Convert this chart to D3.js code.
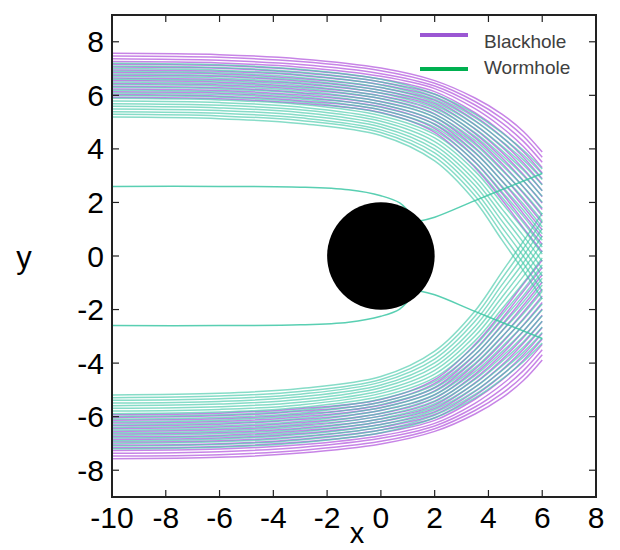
<!DOCTYPE html>
<html>
<head>
<meta charset="utf-8">
<script src="https://cdn.jsdelivr.net/npm/d3@7/dist/d3.min.js"></script>
<style>
  body { margin: 0; background: #fff; }
  text { font-family: "Liberation Sans", Arial, sans-serif; }
</style>
</head>
<body>
<svg id="chart" width="620" height="550"></svg>
<script>
// x stations where every ray is sampled (upper half, lower half is mirrored)
const stationX = [-10, -6, -3, 0, 2, 3.5, 4.5, 5.3, 6];

// blackhole rays, y at each station (outer -> inner)
const bhAtXm10 = [7.57, 7.47, 7.37, 7.26, 7.16, 7.06, 6.95, 6.85, 6.75, 6.65, 6.55, 6.44, 6.34, 6.24, 6.13, 6.03, 5.93];
const bhAtXm6  = [7.52, 7.42, 7.31, 7.21, 7.11, 7.01, 6.90, 6.80, 6.70, 6.59, 6.49, 6.39, 6.28, 6.18, 6.08, 5.97, 5.87];
const bhAtXm3  = [7.36, 7.26, 7.15, 7.05, 6.95, 6.84, 6.74, 6.63, 6.53, 6.43, 6.32, 6.22, 6.11, 6.01, 5.91, 5.80, 5.70];
const bhAtX0   = [7.02, 6.92, 6.81, 6.71, 6.61, 6.50, 6.40, 6.29, 6.19, 6.09, 5.98, 5.88, 5.77, 5.67, 5.57, 5.46, 5.36];
const bhAtX2   = [6.55, 6.45, 6.35, 6.25, 6.14, 6.04, 5.92, 5.81, 5.69, 5.57, 5.44, 5.31, 5.18, 5.04, 4.91, 4.76, 4.62];
const bhAtX35  = [5.90, 5.77, 5.64, 5.50, 5.35, 5.21, 5.06, 4.90, 4.74, 4.57, 4.41, 4.23, 4.05, 3.87, 3.69, 3.50, 3.30];
const bhAtX45  = [5.30, 5.14, 4.97, 4.80, 4.63, 4.45, 4.26, 4.07, 3.87, 3.67, 3.46, 3.25, 3.03, 2.80, 2.57, 2.34, 2.10];
const bhAtX53  = [4.65, 4.47, 4.28, 4.09, 3.89, 3.69, 3.48, 3.26, 3.04, 2.81, 2.58, 2.34, 2.09, 1.84, 1.58, 1.32, 1.05];
const bhAtX6   = [3.88, 3.69, 3.50, 3.30, 3.10, 2.89, 2.67, 2.44, 2.21, 1.98, 1.74, 1.49, 1.23, 0.97, 0.70, 0.43, 0.15];

// wormhole rays, y at each station (outer -> inner)
const whAtXm10 = [7.20, 7.10, 7.00, 6.90, 6.80, 6.70, 6.60, 6.50, 6.40, 6.30, 6.19, 6.09, 5.99, 5.89, 5.79, 5.69, 5.59, 5.49, 5.39, 5.29, 5.19];
const whAtXm6  = [7.14, 7.04, 6.94, 6.84, 6.74, 6.64, 6.54, 6.44, 6.34, 6.24, 6.13, 6.03, 5.93, 5.83, 5.73, 5.63, 5.53, 5.43, 5.33, 5.23, 5.13];
const whAtXm3  = [6.97, 6.87, 6.77, 6.67, 6.57, 6.47, 6.37, 6.27, 6.17, 6.07, 5.96, 5.86, 5.76, 5.66, 5.56, 5.46, 5.36, 5.26, 5.16, 5.06, 4.95];
const whAtX0   = [6.60, 6.50, 6.39, 6.29, 6.18, 6.08, 5.97, 5.87, 5.76, 5.66, 5.55, 5.45, 5.34, 5.24, 5.13, 5.03, 4.92, 4.82, 4.71, 4.61, 4.50];
const whAtX2   = [6.05, 5.95, 5.85, 5.74, 5.63, 5.52, 5.41, 5.29, 5.18, 5.06, 4.93, 4.81, 4.68, 4.54, 4.41, 4.27, 4.13, 3.99, 3.85, 3.70, 3.55];
const whAtX35  = [5.30, 5.17, 5.04, 4.90, 4.76, 4.61, 4.47, 4.32, 4.17, 4.01, 3.85, 3.68, 3.52, 3.34, 3.17, 2.99, 2.81, 2.63, 2.44, 2.25, 2.05];
const whAtX45  = [4.60, 4.44, 4.28, 4.11, 3.94, 3.76, 3.58, 3.39, 3.20, 3.01, 2.81, 2.61, 2.40, 2.19, 1.98, 1.76, 1.54, 1.31, 1.08, 0.84, 0.60];
const whAtX53  = [3.95, 3.77, 3.59, 3.40, 3.20, 3.00, 2.80, 2.59, 2.38, 2.16, 1.94, 1.71, 1.48, 1.24, 1.00, 0.75, 0.50, 0.25, -0.01, -0.28, -0.55];
const whAtX6   = [3.25, 3.06, 2.86, 2.65, 2.44, 2.23, 2.01, 1.79, 1.56, 1.32, 1.08, 0.83, 0.59, 0.33, 0.07, -0.20, -0.47, -0.74, -1.02, -1.31, -1.60];

// wormhole ray that falls into the throat, and the one leaving it
const inRayX  = [-10, -6, -3, -1.2, 0, 0.7, 1.2];
const inRayY  = [2.6, 2.6, 2.57, 2.47, 2.25, 1.98, 1.45];
const outRayX = [1.4, 2.0, 3.5, 5.0, 6.0];
const outRayY = [1.3, 1.45, 2.07, 2.68, 3.08];

const throatRadius = 2;
const xTicks = [-10, -8, -6, -4, -2, 0, 2, 4, 6, 8];
const yTicks = [-8, -6, -4, -2, 0, 2, 4, 6, 8];
const legendNames = ["Blackhole", "Wormhole"];
const legendColors = ["#9b57d3", "#00b050"];

const svg = d3.select("#chart");
const mLeft = 112, mRight = 596, mTop = 15, mBottom = 497;

const x = d3.scaleLinear().domain([-10, 8]).range([mLeft, mRight]);
const y = d3.scaleLinear().domain([-9, 9]).range([mBottom, mTop]);

svg.append("clipPath").attr("id", "plotclip")
  .append("rect").attr("x", mLeft).attr("y", mTop)
  .attr("width", mRight - mLeft).attr("height", mBottom - mTop);

const plot = svg.append("g").attr("clip-path", "url(#plotclip)");

const line = d3.line()
  .x(d => x(d[0]))
  .y(d => y(d[1]))
  .curve(d3.curveCatmullRom.alpha(0.5));

function raysFrom(columns) {
  const n = columns[0].length;
  const rays = [];
  for (let i = 0; i < n; i++) {
    const up = stationX.map((sx, j) => [sx, columns[j][i]]);
    rays.push(up);
    rays.push(up.map(p => [p[0], -p[1]]));
  }
  return rays;
}

const bhRays = raysFrom([bhAtXm10, bhAtXm6, bhAtXm3, bhAtX0, bhAtX2, bhAtX35, bhAtX45, bhAtX53, bhAtX6]);
const whRays = raysFrom([whAtXm10, whAtXm6, whAtXm3, whAtX0, whAtX2, whAtX35, whAtX45, whAtX53, whAtX6]);

plot.selectAll("path.bh").data(bhRays).enter().append("path")
  .attr("class", "bh")
  .attr("d", line)
  .attr("fill", "none")
  .attr("stroke", "#b255dc")
  .attr("stroke-opacity", 0.72)
  .attr("stroke-width", 1.5);

plot.selectAll("path.wh").data(whRays).enter().append("path")
  .attr("class", "wh")
  .attr("d", line)
  .attr("fill", "none")
  .attr("stroke", "#3cc7a4")
  .attr("stroke-opacity", 0.62)
  .attr("stroke-width", 1.5);

const inRay = inRayX.map((v, i) => [v, inRayY[i]]);
const outRay = outRayX.map((v, i) => [v, outRayY[i]]);
const throatRays = [inRay, inRay.map(p => [p[0], -p[1]]), outRay, outRay.map(p => [p[0], -p[1]])];

plot.selectAll("path.th").data(throatRays).enter().append("path")
  .attr("class", "th")
  .attr("d", line)
  .attr("fill", "none")
  .attr("stroke", "#3cc7a4")
  .attr("stroke-opacity", 0.85)
  .attr("stroke-width", 1.5);

// the hole itself
plot.append("circle")
  .attr("cx", x(0)).attr("cy", y(0))
  .attr("r", x(throatRadius) - x(0))
  .attr("fill", "#000");

// frame with inward ticks on all sides
const ax = svg.append("g");
ax.append("rect")
  .attr("x", mLeft).attr("y", mTop)
  .attr("width", mRight - mLeft).attr("height", mBottom - mTop)
  .attr("fill", "none").attr("stroke", "#222").attr("stroke-width", 2);

const tl = 7;
xTicks.forEach(t => {
  ax.append("line").attr("x1", x(t)).attr("x2", x(t)).attr("y1", mBottom).attr("y2", mBottom - tl).attr("stroke", "#222").attr("stroke-width", 1.2);
  ax.append("line").attr("x1", x(t)).attr("x2", x(t)).attr("y1", mTop).attr("y2", mTop + tl).attr("stroke", "#222").attr("stroke-width", 1.2);
  ax.append("text").attr("x", x(t)).attr("y", 528)
    .attr("text-anchor", "middle").attr("font-size", 30).attr("fill", "#000")
    .text(t);
});
yTicks.forEach(t => {
  ax.append("line").attr("x1", mLeft).attr("x2", mLeft + tl).attr("y1", y(t)).attr("y2", y(t)).attr("stroke", "#222").attr("stroke-width", 1.2);
  ax.append("line").attr("x1", mRight).attr("x2", mRight - tl).attr("y1", y(t)).attr("y2", y(t)).attr("stroke", "#222").attr("stroke-width", 1.2);
  ax.append("text").attr("x", 104).attr("y", y(t) + 10.5)
    .attr("text-anchor", "end").attr("font-size", 30).attr("fill", "#000")
    .text(t);
});

svg.append("text").attr("x", 24).attr("y", 268)
  .attr("text-anchor", "middle").attr("font-size", 31).text("y");
svg.append("text").attr("x", 357).attr("y", 543)
  .attr("text-anchor", "middle").attr("font-size", 29).text("x");

// legend
const lg = svg.append("g");
const legendLineY = [35, 69], legendTextY = [48, 74];
legendNames.forEach((name, i) => {
  lg.append("line").attr("x1", 420).attr("x2", 468).attr("y1", legendLineY[i]).attr("y2", legendLineY[i])
    .attr("stroke", legendColors[i]).attr("stroke-width", 4);
  lg.append("text").attr("x", 484).attr("y", legendTextY[i])
    .attr("font-size", 19).attr("fill", "#404040").text(name);
});
</script>
</body>
</html>
